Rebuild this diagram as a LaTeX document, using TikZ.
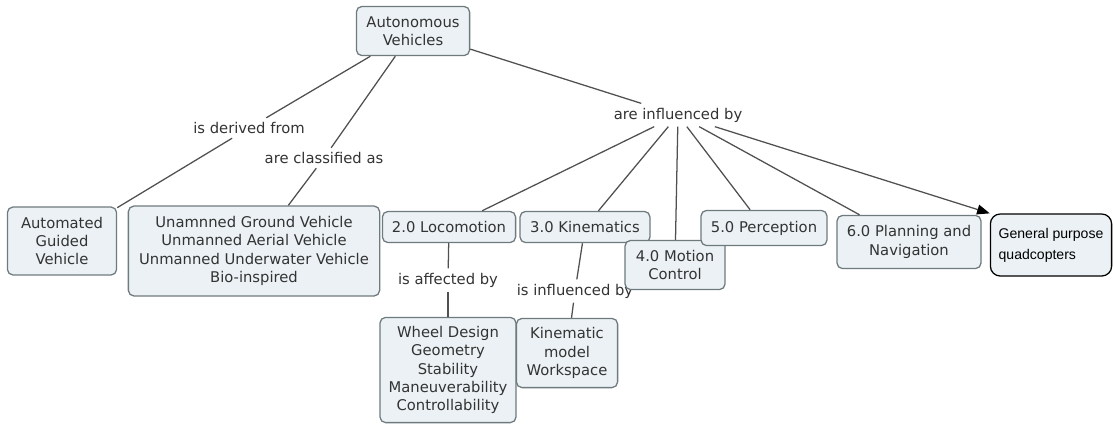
\documentclass[tikz,border=0pt]{standalone}
\usepackage{fontspec}
\setmainfont{DejaVu Sans}
\newfontfamily\quadfont{Liberation Sans}
\usetikzlibrary{arrows.meta}

\begin{document}
\begin{tikzpicture}[x=0.025cm, y=-0.025cm,
  concept/.style={draw=boxGray, fill=boxFill, rounded corners=4pt, line width=0.9pt,
    align=center, text=textGray, font=\fontsize{10.5}{13}\selectfont, inner sep=2pt},
  linkword/.style={text=textGray, font=\fontsize{10.5}{13}\selectfont, inner sep=3pt},
  link/.style={draw=lineGray, line width=0.9pt}]

% Colours
\definecolor{boxFill}{HTML}{EBF1F4}
\definecolor{boxGray}{HTML}{6F7A7E}
\definecolor{textGray}{HTML}{333333}
\definecolor{lineGray}{HTML}{505050}

\useasboundingbox (0,0) rectangle (1113,424);

% Top concept
\node[concept, minimum width=2.83cm, minimum height=1.23cm] (av) at (413,31) {Autonomous\\Vehicles};

% Linking phrases
\node[linkword] (derived) at (249,128) {is derived from};
\node[linkword] (classified) at (324,158) {are classified as};
\node[linkword] (influenced) at (678,115) {are influenced by};
\node[linkword] (affected) at (448,280) {is affected by};
\node[linkword] (influenced2) at (575,291) {is influenced by};

% Left branch
\node[concept, minimum width=2.73cm, minimum height=1.70cm] (agv) at (62,241) {Automated\\Guided\\Vehicle};
\node[concept, minimum width=6.28cm, minimum height=2.25cm] (uv) at (254,251)
  {Unamnned Ground Vehicle\\Unmanned Aerial Vehicle\\Unmanned Underwater Vehicle\\Bio-inspired};

% Influences
\node[concept, minimum width=3.33cm, minimum height=0.78cm] (loc) at (449,227) {2.0 Locomotion};
\node[concept, minimum width=3.25cm, minimum height=0.78cm] (kin) at (585,227) {3.0 Kinematics};
\node[concept, minimum width=2.50cm, minimum height=1.23cm] (mc) at (675,265) {4.0 Motion\\Control};
\node[concept, minimum width=3.15cm, minimum height=0.88cm] (per) at (764,228) {5.0 Perception};
\node[concept, minimum width=3.60cm, minimum height=1.33cm] (pn) at (909,242) {6.0 Planning and\\Navigation};
\node[concept, draw=black, text=black, align=left, rounded corners=7pt,
  font=\quadfont\fontsize{10}{15}\selectfont, minimum width=3.03cm, minimum height=1.55cm]
  (quad) at (1051,245) {General purpose\\quadcopters};

% Lower concepts
\node[concept, minimum width=3.40cm, minimum height=2.63cm] (wheel) at (448,370)
  {Wheel Design\\Geometry\\Stability\\Maneuverability\\Controllability};
\node[concept, minimum width=2.53cm, minimum height=1.73cm] (km) at (567,353) {Kinematic\\model\\Workspace};

% Connectors
\draw[link] (av) -- (derived);
\draw[link] (derived) -- (agv);
\draw[link] (av) -- (classified);
\draw[link] (classified) -- (uv);
\draw[link] (av) -- (influenced);
\draw[link] (influenced) -- (loc);
\draw[link] (influenced) -- (kin);
\draw[link] (influenced) -- (mc);
\draw[link] (influenced) -- (per);
\draw[link] (influenced) -- (pn);
\draw[link, -{Triangle[length=9pt, width=7pt, color=black]}] (influenced) -- (quad.north west);
\draw[link] (loc) -- (affected);
\draw[link] (affected) -- (wheel);
\draw[link] (kin) -- (influenced2);
\draw[link] (influenced2) -- (km);

\end{tikzpicture}
\end{document}
